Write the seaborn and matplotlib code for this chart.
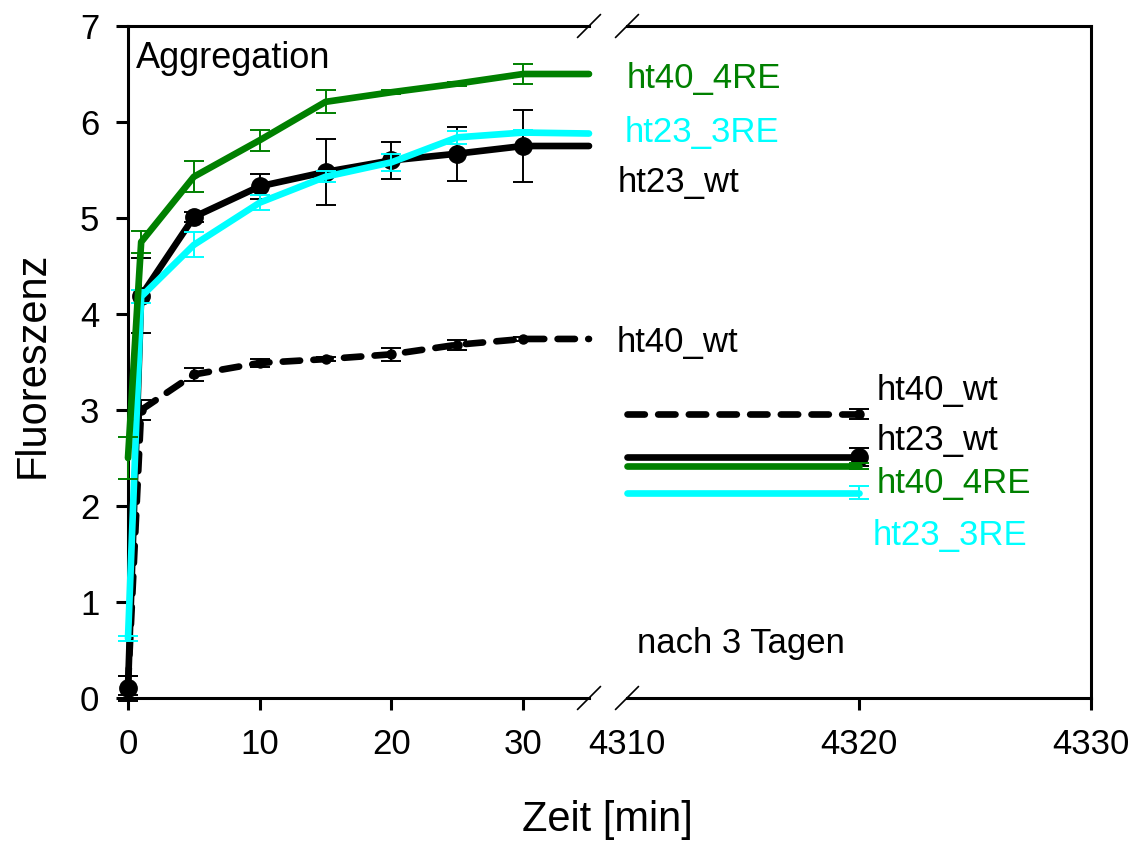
import numpy as np
import pandas as pd
import matplotlib
matplotlib.use("Agg")
import matplotlib.pyplot as plt
import seaborn as sns

# ---------------- data ----------------
time_min = [0, 1, 5, 10, 15, 20, 25, 30, 35]

ht40_4RE = [2.50, 4.75, 5.43, 5.81, 6.21, 6.31, 6.40, 6.50, 6.50]
ht40_4RE_err = [0.22, 0.11, 0.16, 0.11, 0.12, 0.02, 0.02, 0.10, 0.0]

ht23_3RE = [0.62, 4.18, 4.72, 5.16, 5.43, 5.58, 5.84, 5.89, 5.88]
ht23_3RE_err = [0.03, 0.07, 0.13, 0.08, 0.06, 0.09, 0.07, 0.03, 0.0]

ht23_wt = [0.10, 4.19, 5.01, 5.33, 5.48, 5.60, 5.67, 5.75, 5.75]
ht23_wt_err = [0.13, 0.39, 0.05, 0.13, 0.34, 0.19, 0.28, 0.37, 0.0]

ht40_wt = [0.13, 3.00, 3.37, 3.49, 3.53, 3.58, 3.68, 3.74, 3.74]
ht40_wt_err = [0.10, 0.10, 0.07, 0.04, 0.02, 0.07, 0.05, 0.02, 0.0]

# after 3 days (right panel)
day3_time = [4310, 4320]
d3_ht40_wt, d3_ht40_wt_err = 2.96, 0.055
d3_ht23_wt, d3_ht23_wt_err = 2.51, 0.09
d3_ht40_4RE, d3_ht40_4RE_err = 2.42, 0.03
d3_ht23_3RE, d3_ht23_3RE_err = 2.14, 0.07

left_xticks = [0, 10, 20, 30]
right_xticks = [4310, 4320, 4330]
yticks = [0, 1, 2, 3, 4, 5, 6, 7]

# ---------------- style ----------------
sns.set_theme(style="ticks")
plt.rcParams['font.family'] = ['Liberation Sans', 'DejaVu Sans']
plt.rcParams['text.color'] = 'black'
plt.rcParams['axes.labelcolor'] = 'black'

W, H = 1133, 842
fig = plt.figure(figsize=(W / 100, H / 100), dpi=100)

def fx(px):
    return px / W

def fy(py):
    return 1 - py / H

axL = fig.add_axes([fx(128), fy(698), (589 - 128) / W, (698 - 26) / H])
axR = fig.add_axes([fx(627), fy(698), (1091 - 627) / W, (698 - 26) / H])

GREEN = "#008000"
CYAN = "#00FFFF"
BLACK = "#000000"
LW = 4.8
DASH = (2.6, 2.0)

series = [
    ("ht40_wt", ht40_wt, ht40_wt_err, BLACK, True, 6.5, 1),
    ("ht23_wt", ht23_wt, ht23_wt_err, BLACK, False, 12.5, 2),
    ("ht23_3RE", ht23_3RE, ht23_3RE_err, CYAN, False, 0, 3),
    ("ht40_4RE", ht40_4RE, ht40_4RE_err, GREEN, False, 0, 4),
]

for name, vals, errs, col, dashed, ms, z in series:
    df = pd.DataFrame({"t": time_min, "v": vals})
    sns.lineplot(data=df, x="t", y="v", ax=axL, color=col, linewidth=LW,
                 errorbar=None, sort=False, zorder=z,
                 solid_capstyle="round", dash_capstyle="round",
                 solid_joinstyle="round")
    ln = axL.lines[-1]
    ln.set_clip_on(False)
    if dashed:
        ln.set_dashes(DASH)
    n = len(vals) - 1
    axL.errorbar(time_min[:n], vals[:n], yerr=errs[:n], fmt="none",
                 ecolor=col, elinewidth=1.4, capsize=7.5, capthick=1.4,
                 zorder=z + 0.5, clip_on=False)
    if ms > 0:
        axL.plot(time_min[:n], vals[:n], linestyle="none", marker="o",
                 markersize=ms, color=col, zorder=z + 0.6, clip_on=False)

d3 = [
    (d3_ht40_wt, d3_ht40_wt_err, BLACK, True, 6.5, 1),
    (d3_ht23_wt, d3_ht23_wt_err, BLACK, False, 12.5, 2),
    (d3_ht23_3RE, d3_ht23_3RE_err, CYAN, False, 0, 3),
    (d3_ht40_4RE, d3_ht40_4RE_err, GREEN, False, 0, 4),
]
for v, e, col, dashed, ms, z in d3:
    df = pd.DataFrame({"t": day3_time, "v": [v, v]})
    sns.lineplot(data=df, x="t", y="v", ax=axR, color=col, linewidth=LW,
                 errorbar=None, sort=False, zorder=z,
                 solid_capstyle="round", dash_capstyle="round")
    ln = axR.lines[-1]
    ln.set_clip_on(False)
    if dashed:
        ln.set_dashes(DASH)
    axR.errorbar([day3_time[1]], [v], yerr=[e], fmt="none", ecolor=col,
                 elinewidth=1.4, capsize=7.5, capthick=1.4, zorder=z + 0.5)
    if ms > 0:
        axR.plot([day3_time[1]], [v], linestyle="none", marker="o",
                 markersize=ms, color=col, zorder=z + 0.6)

# ---------------- axes ----------------
for ax in (axL, axR):
    ax.set_ylim(0, 7)
    ax.set_xlabel("")
    ax.set_ylabel("")
    ax.set_facecolor("white")
    for s in ax.spines.values():
        s.set_linewidth(2.2)
        s.set_color("black")
    ax.tick_params(axis="both", which="major", direction="out", length=8.6,
                   width=2.2, labelsize=25, color="black", labelcolor="black")
    ax.tick_params(axis="x", pad=13)
    ax.tick_params(axis="y", pad=12)

axL.set_xlim(0, 35)
axL.set_xticks(left_xticks)
axL.set_xticklabels([str(t) for t in left_xticks])
axL.set_yticks(yticks)
axL.set_yticklabels([str(t) for t in yticks])
axL.spines["right"].set_visible(False)

axR.set_xlim(4310, 4330)
axR.set_xticks(right_xticks)
axR.set_xticklabels([str(t) for t in right_xticks])
axR.set_yticks([])
axR.spines["left"].set_visible(False)
axR.xaxis.get_major_ticks()[0].tick1line.set_visible(False)

# break marks
def slash(ax, xa, ya):
    bb = ax.get_position()
    dx = 11.5 / (bb.width * W)
    dy = 11.5 / (bb.height * H)
    ax.plot([xa - dx, xa + dx], [ya - dy, ya + dy], transform=ax.transAxes,
            color="black", linewidth=1.2, clip_on=False, zorder=10)

for ya in (0, 1):
    slash(axL, 1, ya)
    slash(axR, 0, ya)

# ---------------- texts ----------------
fs = 25
fig.text(fx(136), fy(68), "Aggregation", fontsize=26, color=BLACK, va="baseline")
fig.text(fx(627), fy(88), "ht40_4RE", fontsize=fs, color=GREEN, va="baseline")
fig.text(fx(625), fy(142), "ht23_3RE", fontsize=fs, color=CYAN, va="baseline")
fig.text(fx(618), fy(192), "ht23_wt", fontsize=fs, color=BLACK, va="baseline")
fig.text(fx(617), fy(352), "ht40_wt", fontsize=fs, color=BLACK, va="baseline")

fig.text(fx(877), fy(400), "ht40_wt", fontsize=fs, color=BLACK, va="baseline")
fig.text(fx(877), fy(450), "ht23_wt", fontsize=fs, color=BLACK, va="baseline")
fig.text(fx(877), fy(493), "ht40_4RE", fontsize=fs, color=GREEN, va="baseline")
fig.text(fx(873), fy(545), "ht23_3RE", fontsize=fs, color=CYAN, va="baseline")
fig.text(fx(637), fy(653), "nach 3 Tagen", fontsize=fs, color=BLACK, va="baseline")

fig.text(fx(607), fy(820), "Zeit [min]", fontsize=30, ha="center", va="center",
         color=BLACK)
fig.text(fx(33), fy(365), "Fluoreszenz", fontsize=30, ha="center", va="center",
         rotation=90, color=BLACK)

fig.savefig("out.png", dpi=100, facecolor="white")
